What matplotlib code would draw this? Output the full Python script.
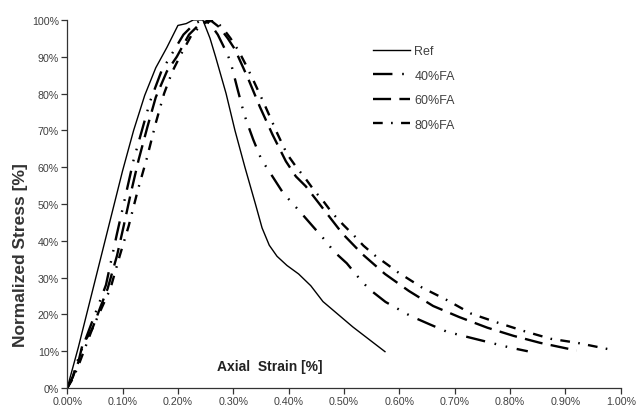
import matplotlib
matplotlib.use("Agg")
import matplotlib.pyplot as plt
from matplotlib.ticker import FuncFormatter, MultipleLocator

plt.rcParams['font.family'] = ['Liberation Sans', 'DejaVu Sans']
plt.rcParams['lines.scale_dashes'] = False

# Axial strain [%] and normalized stress [%] for each mix
ref_x = [0, 0.02, 0.04, 0.06, 0.08, 0.10, 0.12, 0.14, 0.16, 0.18, 0.20, 0.215, 0.228,
         0.245, 0.258, 0.268, 0.287, 0.303, 0.321, 0.34, 0.352, 0.365, 0.379, 0.397,
         0.418, 0.44, 0.462, 0.516, 0.574]
ref_y = [0, 11, 23, 35, 47, 59, 70, 79.5, 87, 92.5, 98.5, 99, 100,
         100, 95, 90, 80, 70, 60, 50, 43.5, 38.8, 35.8, 33.3,
         31, 27.8, 23.5, 16.6, 9.9]

fa40_x = [0, 0.01, 0.02, 0.03, 0.045, 0.06, 0.07, 0.09, 0.105, 0.12, 0.135, 0.15, 0.17,
          0.19, 0.21, 0.23, 0.245, 0.258, 0.272, 0.29, 0.297, 0.307, 0.317, 0.323, 0.336,
          0.351, 0.363, 0.39, 0.42, 0.445, 0.469, 0.481, 0.505, 0.532, 0.547, 0.575, 0.62,
          0.655, 0.686, 0.72, 0.76, 0.80, 0.832]
fa40_y = [0, 3, 8, 12, 18, 24, 28, 42, 52, 62, 70, 78, 86,
          91, 96, 99, 100, 99, 96, 90.5, 87.5, 81.6, 75.9, 72.9, 67.5,
          62, 59.3, 53, 48, 43.7, 39.6, 37.2, 33.9, 29, 26.7, 23.4, 19.6,
          17.3, 15.3, 14, 12.5, 11.0, 10.0]

fa60_x = [0, 0.01, 0.02, 0.028, 0.035, 0.045, 0.06, 0.073, 0.09, 0.102, 0.115, 0.129,
          0.145, 0.16, 0.18, 0.198, 0.22, 0.24, 0.258, 0.275, 0.29, 0.303, 0.315, 0.327,
          0.348, 0.371, 0.395, 0.413, 0.431, 0.464, 0.497, 0.533, 0.574, 0.617, 0.661,
          0.708, 0.759, 0.806, 0.854, 0.92]
fa60_y = [0, 3, 7, 12, 13.5, 16, 22, 27, 36, 44, 53, 62,
          71, 79, 86, 90, 96, 99, 100, 98, 95, 92, 88, 84,
          76.4, 68.8, 61.6, 57.5, 54.8, 48.4, 42, 36.4, 31, 26.4, 22.3,
          19.3, 16.4, 14.2, 12.3, 10.2]

fa80_x = [0, 0.01, 0.02, 0.03, 0.045, 0.06, 0.078, 0.095, 0.111, 0.128, 0.144, 0.16,
          0.175, 0.19, 0.205, 0.225, 0.245, 0.265, 0.28, 0.295, 0.31, 0.322, 0.335,
          0.355, 0.38, 0.397, 0.413, 0.43, 0.446, 0.463, 0.479, 0.499, 0.517, 0.535,
          0.556, 0.598, 0.641, 0.686, 0.73, 0.779, 0.827, 0.873, 0.921, 0.98]
fa80_y = [0, 2.5, 6, 10, 16, 21, 27, 36, 44, 54, 62.5, 72,
          80, 86, 90.5, 96, 99, 100, 98, 95, 91.5, 88, 84,
          77.5, 69, 63.6, 60.2, 57, 53.7, 50.7, 47.5, 44.3, 41.6, 38.7,
          36, 31.4, 27.3, 23.9, 20.2, 17.7, 15.4, 13.4, 12.3, 10.5]

fig = plt.figure(figsize=(6.4, 4.1), dpi=100)
ax = fig.add_axes([0.105, 0.051, 0.865, 0.898])

ax.plot(ref_x, ref_y, color='black', lw=1.0, label='Ref')
ax.plot(fa40_x, fa40_y, color='black', lw=1.7, dashes=[14, 7, 1.2, 7, 1.2, 7], label='40%FA')
ax.plot(fa60_x, fa60_y, color='black', lw=1.7, dashes=[13, 6], label='60%FA')
ax.plot(fa80_x, fa80_y, color='black', lw=1.7, dashes=[7, 6, 1.2, 6], label='80%FA')

ax.set_xlim(0, 1.0)
ax.set_ylim(0, 100)
ax.xaxis.set_major_locator(MultipleLocator(0.1))
ax.yaxis.set_major_locator(MultipleLocator(10))
ax.xaxis.set_major_formatter(FuncFormatter(lambda v, p: f'{v:.2f}%'))
ax.yaxis.set_major_formatter(FuncFormatter(lambda v, p: f'{v:.0f}%'))

for s in ['top', 'right']:
    ax.spines[s].set_visible(False)
for s in ['left', 'bottom']:
    ax.spines[s].set_color('#333333')
    ax.spines[s].set_linewidth(0.9)
ax.tick_params(axis='both', direction='out', length=4, width=0.9, color='#333333',
               labelsize=7.7, labelcolor='#404040', pad=2)

ax.set_ylabel('Normalized Stress [%]', fontsize=12.5, fontweight='bold', color='#333333')
ax.yaxis.set_label_coords(-0.071, 0.364)
ax.text(0.365, 0.06, 'Axial  Strain [%]', transform=ax.transAxes, ha='center', va='center',
        fontsize=10, fontweight='bold', color='#222222')

leg = ax.legend(loc='upper left', bbox_to_anchor=(0.532, 0.962), frameon=False, fontsize=9,
                handlelength=3.0, handletextpad=0.3, labelspacing=1.0)
for t in leg.get_texts():
    t.set_color('#404040')

fig.savefig('out.png', dpi=100)
